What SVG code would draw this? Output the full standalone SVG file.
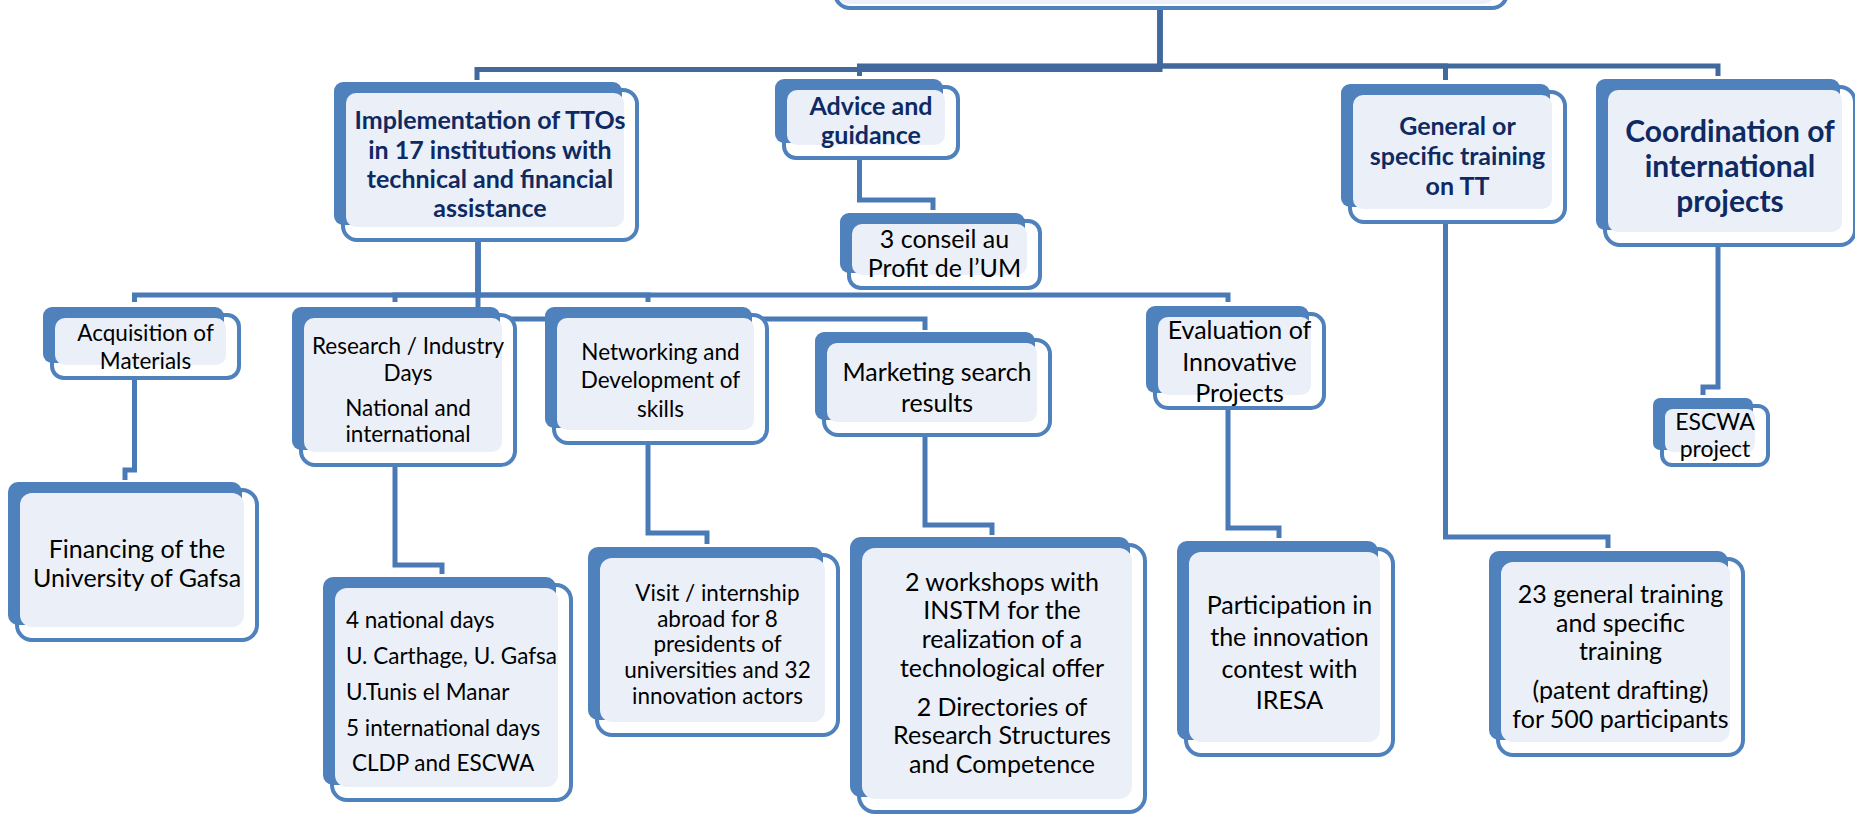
<svg xmlns="http://www.w3.org/2000/svg" width="1855" height="815" viewBox="0 0 1855 815">
<style>
.bk{fill:#4F81BD}
.lt{fill:#EBF0F8}
.fr{fill:#FFFFFF;stroke:#4F81BD;stroke-width:4}
.c1{fill:none;stroke:#41699D;stroke-width:5}
.c2{fill:none;stroke:#4A7AB5;stroke-width:5}
.tb{font-family:Lato,"Liberation Sans",sans-serif;font-weight:bold;fill:#0F2A62;text-anchor:middle;font-size:25px}
.tr{font-family:Lato,"Liberation Sans",sans-serif;fill:#000000;text-anchor:middle;font-size:25px}
.s{font-size:22.5px}
</style>
<rect width="1855" height="815" fill="#FFFFFF"/>
<g id="connectors">
<path class="c1" d="M1160,0 V69.5 H477 V80"/>
<path class="c1" d="M1160,0 V66 H859.5 V76"/>
<path class="c1" d="M1160,0 V66 H1445.5 V80"/>
<path class="c1" d="M1160,0 V66 H1718 V76"/>
<path class="c2" d="M478,230 V295 H134.5 V302"/>
<path class="c2" d="M478,230 V295 H395 V302"/>
<path class="c2" d="M478,230 V295 H648 V302"/>
<path class="c2" d="M478,230 V295 H1228 V302"/>
<path class="c2" d="M478,230 V319 H925 V330"/>
<path class="c2" d="M859.5,150 V200 H933 V210"/>
<path class="c2" d="M134.5,375 V470 H125 V480"/>
<path class="c2" d="M395,462 V565 H442 V574"/>
<path class="c2" d="M648,440 V533 H707 V544"/>
<path class="c2" d="M925,430 V525 H992 V535"/>
<path class="c2" d="M1228,405 V528 H1279 V538"/>
<path class="c2" d="M1445.5,220 V537 H1608 V548"/>
<path class="c2" d="M1718,240 V387 H1703 V395"/>
</g>
<g id="top">
<rect class="fr" x="835" y="-152" width="672" height="160" rx="15"/>
<rect class="bk" x="826" y="-160" width="666" height="158" rx="9"/>
<rect class="lt" x="838" y="-149" width="656" height="153" rx="10"/>
</g>
<g id="implementation">
<rect class="fr" x="343" y="90" width="294" height="150" rx="14"/>
<rect class="bk" x="334" y="82" width="288" height="143" rx="9"/>
<rect class="lt" x="346" y="93" width="278" height="134" rx="10"/>
<text class="tb" x="490" y="129">Implementation of TTOs</text>
<text class="tb" x="490" y="159">in 17 institutions with</text>
<text class="tb" x="490" y="188">technical and financial</text>
<text class="tb" x="490" y="217">assistance</text>
</g>
<g id="advice">
<rect class="fr" x="784" y="87" width="174" height="71" rx="12"/>
<rect class="bk" x="775" y="79" width="168" height="64" rx="9"/>
<rect class="lt" x="787" y="90" width="158" height="55" rx="10"/>
<text class="tb" x="871" y="115">Advice and</text>
<text class="tb" x="871" y="144">guidance</text>
</g>
<g id="general">
<rect class="fr" x="1350" y="92" width="215" height="130" rx="14"/>
<rect class="bk" x="1341" y="84" width="209" height="123" rx="9"/>
<rect class="lt" x="1353" y="95" width="199" height="114" rx="10"/>
<text class="tb" x="1457.5" y="135">General or</text>
<text class="tb" x="1457.5" y="165">specific training</text>
<text class="tb" x="1457.5" y="195">on TT</text>
</g>
<g id="coordination">
<rect class="fr" x="1605" y="87" width="250" height="158" rx="15"/>
<rect class="bk" x="1596" y="79" width="244" height="151" rx="9"/>
<rect class="lt" x="1608" y="90" width="234" height="142" rx="10"/>
<text class="tb" x="1730" y="142" style="font-size:30px">Coordination of</text>
<text class="tb" x="1730" y="177" style="font-size:30px">international</text>
<text class="tb" x="1730" y="212" style="font-size:30px">projects</text>
</g>
<g id="conseil">
<rect class="fr" x="849" y="221" width="191" height="67" rx="12"/>
<rect class="bk" x="840" y="213" width="185" height="60" rx="9"/>
<rect class="lt" x="852" y="224" width="175" height="51" rx="10"/>
<text class="tr" x="944.5" y="248">3 conseil au</text>
<text class="tr" x="944.5" y="277">Profit de l’UM</text>
</g>
<g id="acquisition">
<rect class="fr" x="52" y="315" width="187" height="63" rx="12"/>
<rect class="bk" x="43" y="307" width="181" height="56" rx="9"/>
<rect class="lt" x="55" y="318" width="171" height="47" rx="10"/>
<text class="tr s" x="145.5" y="341">Acquisition of</text>
<text class="tr s" x="145.5" y="369">Materials</text>
</g>
<g id="research">
<rect class="fr" x="301" y="315" width="214" height="150" rx="14"/>
<rect class="bk" x="292" y="307" width="208" height="143" rx="9"/>
<rect class="lt" x="304" y="318" width="198" height="134" rx="10"/>
<text class="tr s" x="408" y="354">Research / Industry</text>
<text class="tr s" x="408" y="381">Days</text>
<text class="tr s" x="408" y="416">National and</text>
<text class="tr s" x="408" y="442">international</text>
</g>
<g id="networking">
<rect class="fr" x="554" y="315" width="213" height="128" rx="14"/>
<rect class="bk" x="545" y="307" width="207" height="121" rx="9"/>
<rect class="lt" x="557" y="318" width="197" height="112" rx="10"/>
<text class="tr s" x="660.5" y="360">Networking and</text>
<text class="tr s" x="660.5" y="388">Development of</text>
<text class="tr s" x="660.5" y="417">skills</text>
</g>
<g id="marketing">
<rect class="fr" x="824" y="340" width="226" height="95" rx="14"/>
<rect class="bk" x="815" y="332" width="220" height="88" rx="9"/>
<rect class="lt" x="827" y="343" width="210" height="79" rx="10"/>
<text class="tr" x="937" y="381">Marketing search</text>
<text class="tr" x="937" y="412">results</text>
</g>
<g id="evaluation">
<rect class="fr" x="1155" y="314" width="169" height="94" rx="13"/>
<rect class="bk" x="1146" y="306" width="163" height="87" rx="9"/>
<rect class="lt" x="1158" y="317" width="153" height="78" rx="10"/>
<text class="tr" x="1239.5" y="339">Evaluation of</text>
<text class="tr" x="1239.5" y="371">Innovative</text>
<text class="tr" x="1239.5" y="402">Projects</text>
</g>
<g id="financing">
<rect class="fr" x="17" y="490" width="240" height="150" rx="15"/>
<rect class="bk" x="8" y="482" width="234" height="143" rx="10"/>
<rect class="lt" x="20" y="493" width="224" height="134" rx="12"/>
<text class="tr" x="137" y="558">Financing of the</text>
<text class="tr" x="137" y="587">University of Gafsa</text>
</g>
<g id="national">
<rect class="fr" x="332" y="585" width="239" height="215" rx="15"/>
<rect class="bk" x="323" y="577" width="233" height="208" rx="10"/>
<rect class="lt" x="335" y="588" width="223" height="199" rx="12"/>
<text class="tr s" x="346" y="628" style="text-anchor:start">4 national days</text>
<text class="tr s" x="346" y="664" style="text-anchor:start">U. Carthage, U. Gafsa</text>
<text class="tr s" x="346" y="700" style="text-anchor:start">U.Tunis el Manar</text>
<text class="tr s" x="346" y="736" style="text-anchor:start">5 international days</text>
<text class="tr s" x="352" y="771" style="text-anchor:start">CLDP and ESCWA</text>
</g>
<g id="visit">
<rect class="fr" x="597" y="555" width="241" height="180" rx="15"/>
<rect class="bk" x="588" y="547" width="235" height="173" rx="10"/>
<rect class="lt" x="600" y="558" width="225" height="164" rx="12"/>
<text class="tr s" x="717.5" y="601">Visit / internship</text>
<text class="tr s" x="717.5" y="627">abroad for 8</text>
<text class="tr s" x="717.5" y="652">presidents of</text>
<text class="tr s" x="717.5" y="678">universities and 32</text>
<text class="tr s" x="717.5" y="704">innovation actors</text>
</g>
<g id="workshops">
<rect class="fr" x="859" y="545" width="286" height="267" rx="16"/>
<rect class="bk" x="850" y="537" width="280" height="260" rx="11"/>
<rect class="lt" x="862" y="548" width="270" height="251" rx="13"/>
<text class="tr" x="1002" y="591">2 workshops with</text>
<text class="tr" x="1002" y="619">INSTM for the</text>
<text class="tr" x="1002" y="648">realization of a</text>
<text class="tr" x="1002" y="677">technological offer</text>
<text class="tr" x="1002" y="716">2 Directories of</text>
<text class="tr" x="1002" y="744">Research Structures</text>
<text class="tr" x="1002" y="773">and Competence</text>
</g>
<g id="participation">
<rect class="fr" x="1186" y="549" width="207" height="206" rx="15"/>
<rect class="bk" x="1177" y="541" width="201" height="199" rx="10"/>
<rect class="lt" x="1189" y="552" width="191" height="190" rx="12"/>
<text class="tr" x="1289.5" y="614">Participation in</text>
<text class="tr" x="1289.5" y="646">the innovation</text>
<text class="tr" x="1289.5" y="678">contest with</text>
<text class="tr" x="1289.5" y="709">IRESA</text>
</g>
<g id="training23">
<rect class="fr" x="1498" y="559" width="245" height="196" rx="15"/>
<rect class="bk" x="1489" y="551" width="239" height="189" rx="10"/>
<rect class="lt" x="1501" y="562" width="229" height="180" rx="12"/>
<text class="tr" x="1620.5" y="603">23 general training</text>
<text class="tr" x="1620.5" y="632">and specific</text>
<text class="tr" x="1620.5" y="660">training</text>
<text class="tr" x="1620.5" y="699">(patent drafting)</text>
<text class="tr" x="1620.5" y="728">for 500 participants</text>
</g>
<g id="escwa">
<rect class="fr" x="1662" y="406" width="106" height="59" rx="10"/>
<rect class="bk" x="1653" y="398" width="100" height="52" rx="7"/>
<rect class="lt" x="1665" y="409" width="90" height="43" rx="8"/>
<text class="tr" x="1715" y="430" style="font-size:23px">ESCWA</text>
<text class="tr" x="1715" y="457" style="font-size:23px">project</text>
</g>
</svg>
